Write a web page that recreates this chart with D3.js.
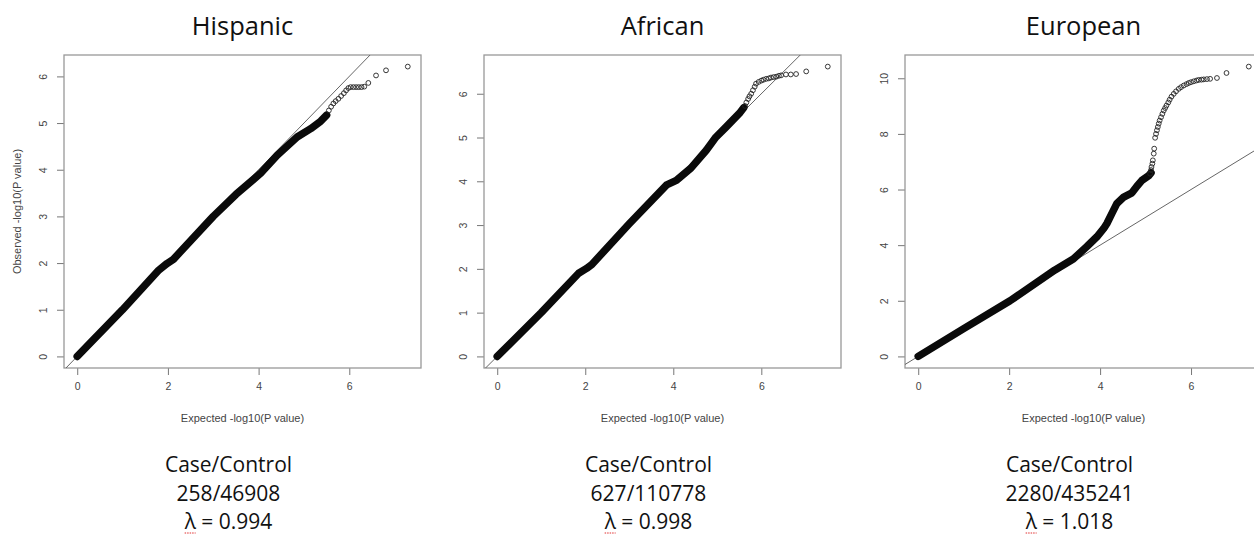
<!DOCTYPE html>
<html>
<head>
<meta charset="utf-8">
<script src="https://cdn.jsdelivr.net/npm/d3@7"></script>
<style>
  body { margin: 0; background: #fff; }
  .tick text { font-family: "Liberation Sans", Arial, sans-serif; }
</style>
</head>
<body>
<div id="chart"></div>
<script>
// titles and captions
var panelTitles = ["Hispanic", "African", "European"];
var caseControl = ["258/46908", "627/110778", "2280/435241"];
var lambdas = ["0.994", "0.998", "1.018"];

// tick labels
var xTicks = [0, 2, 4, 6];
var yTicksHispanic = [0, 1, 2, 3, 4, 5, 6];
var yTicksAfrican = [0, 1, 2, 3, 4, 5, 6];
var yTicksEuropean = [0, 2, 4, 6, 8, 10];

// dense part of each QQ cloud (expected, observed)
var hispanicBand = [[0, 0], [1.0, 1.0], [1.8, 1.85], [1.98, 1.99], [2.12, 2.08], [3.0, 3.0],
  [3.5, 3.47], [4.04, 3.92], [4.41, 4.31], [4.85, 4.7], [5.15, 4.88], [5.37, 5.04], [5.5, 5.17]];
var africanBand = [[0, 0], [1.0, 1.0], [1.85, 1.9], [2.03, 2.01], [2.15, 2.1], [3.0, 3.03],
  [3.85, 3.92], [4.07, 4.02], [4.4, 4.3], [4.75, 4.71], [4.97, 5.01], [5.2, 5.24], [5.5, 5.55], [5.6, 5.68]];
var europeanBand = [[0, 0], [1.0, 1.0], [2.02, 2.0], [3.0, 3.1], [3.41, 3.5], [3.71, 3.95],
  [3.93, 4.3], [4.08, 4.6], [4.15, 4.78], [4.26, 5.14], [4.37, 5.5], [4.52, 5.73], [4.7, 5.88],
  [4.81, 6.12], [4.92, 6.33], [5.07, 6.5], [5.12, 6.6]];

// sparse tail points drawn as open circles
var hispanicTail = [[5.55, 5.27], [5.6, 5.35], [5.65, 5.42], [5.7, 5.47], [5.76, 5.52], [5.82, 5.58],
  [5.88, 5.64], [5.93, 5.7], [5.98, 5.75], [6.03, 5.77], [6.09, 5.77], [6.15, 5.77], [6.21, 5.77],
  [6.27, 5.77], [6.33, 5.78], [6.42, 5.86], [6.59, 6.02], [6.81, 6.13], [7.29, 6.21]];
var africanTail = [[5.63, 5.72], [5.66, 5.8], [5.7, 5.88], [5.73, 5.94], [5.77, 6.0], [5.81, 6.08],
  [5.85, 6.16], [5.88, 6.23], [5.94, 6.27], [6.0, 6.3], [6.05, 6.32], [6.11, 6.34], [6.17, 6.35],
  [6.22, 6.37], [6.28, 6.38], [6.34, 6.39], [6.4, 6.41], [6.45, 6.42], [6.56, 6.44], [6.67, 6.44],
  [6.79, 6.45], [7.02, 6.51], [7.51, 6.62]];
var europeanTail = [[5.1, 6.57], [5.12, 6.7], [5.13, 6.81], [5.15, 6.93], [5.16, 7.05], [5.18, 7.29],
  [5.19, 7.47], [5.21, 7.86], [5.23, 8.0], [5.25, 8.13], [5.27, 8.25], [5.29, 8.37], [5.31, 8.48],
  [5.34, 8.6], [5.37, 8.72], [5.4, 8.84], [5.43, 8.93], [5.46, 9.02], [5.5, 9.13], [5.53, 9.23],
  [5.57, 9.34], [5.62, 9.44], [5.67, 9.53], [5.73, 9.62], [5.78, 9.68], [5.84, 9.74], [5.9, 9.79],
  [5.95, 9.83], [6.0, 9.86], [6.06, 9.89], [6.12, 9.92], [6.17, 9.94], [6.23, 9.95], [6.28, 9.96],
  [6.35, 9.97], [6.42, 9.98], [6.57, 10.01], [6.78, 10.19], [7.27, 10.42]];

var bands = [hispanicBand, africanBand, europeanBand];
var tails = [hispanicTail, africanTail, europeanTail];
var yTickSets = [yTicksHispanic, yTicksAfrican, yTicksEuropean];

var width = 1254, height = 537;
var boxLefts = [64, 484, 905], boxW = 357, boxTop = 55, boxBottom = 368;

var svg = d3.select("#chart").append("svg")
    .attr("width", width)
    .attr("height", height);

// R-style padded domain (4% each side)
function padded(lo, hi) {
  var r = hi - lo;
  return [lo - 0.04 * r, hi + 0.04 * r];
}

panelTitles.forEach(function(title, i) {
  var band = bands[i], tail = tails[i];
  var all = band.concat(tail);
  var left = boxLefts[i];

  var x = d3.scaleLinear()
      .domain(padded(0, d3.max(all, function(d){ return d[0]; })))
      .range([left, left + boxW]);
  var y = d3.scaleLinear()
      .domain(padded(0, d3.max(all, function(d){ return d[1]; })))
      .range([boxBottom, boxTop]);

  var g = svg.append("g").attr("class", "panel");

  g.append("clipPath").attr("id", "clip" + i)
    .append("rect")
      .attr("x", left).attr("y", boxTop)
      .attr("width", boxW).attr("height", boxBottom - boxTop);

  // title
  g.append("text")
      .attr("x", left + boxW / 2)
      .attr("y", 35)
      .attr("text-anchor", "middle")
      .style("font-family", "'Open Sans', sans-serif")
      .style("font-size", "25.5px")
      .style("fill", "#111")
      .text(title);

  // axes
  var xAxis = d3.axisBottom(x).tickValues(xTicks).tickFormat(d3.format("d"))
      .tickSize(7).tickPadding(8);
  var gx = g.append("g")
      .attr("transform", "translate(0," + boxBottom + ")")
      .call(xAxis);
  var yAxis = d3.axisLeft(y).tickValues(yTickSets[i]).tickFormat(d3.format("d"))
      .tickSize(7).tickPadding(9);
  var gy = g.append("g")
      .attr("transform", "translate(" + left + ",0)")
      .call(yAxis);

  [gx, gy].forEach(function(a) {
    a.select(".domain").remove();
    a.selectAll(".tick line").attr("stroke", "#777");
    a.selectAll(".tick text").style("font-size", "10.5px").attr("fill", "#444");
  });
  // y labels parallel to the axis, as in R
  gy.selectAll(".tick text")
      .attr("x", null).attr("dy", null)
      .attr("text-anchor", "middle")
      .attr("transform", "translate(-17,0) rotate(-90)");

  // box
  g.append("rect")
      .attr("x", left).attr("y", boxTop)
      .attr("width", boxW).attr("height", boxBottom - boxTop)
      .attr("fill", "none")
      .attr("stroke", "#999")
      .attr("stroke-width", 1.3);

  // axis labels
  g.append("text")
      .attr("x", left + boxW / 2)
      .attr("y", 422)
      .attr("text-anchor", "middle")
      .style("font-family", "'Liberation Sans', Arial, sans-serif")
      .style("font-size", "11px")
      .style("fill", "#444")
      .text("Expected -log10(P value)");
  if (i === 0) {
    g.append("text")
        .attr("transform", "translate(21," + ((boxTop + boxBottom) / 2) + ") rotate(-90)")
        .attr("text-anchor", "middle")
        .style("font-family", "'Liberation Sans', Arial, sans-serif")
        .style("font-size", "11px")
        .style("fill", "#444")
        .text("Observed -log10(P value)");
  }

  var plot = g.append("g").attr("clip-path", "url(#clip" + i + ")");

  // expected line y = x
  var lim = d3.extent(x.domain().concat(y.domain()));
  plot.append("line")
      .attr("x1", x(lim[0])).attr("y1", y(lim[0]))
      .attr("x2", x(lim[1])).attr("y2", y(lim[1]))
      .attr("stroke", "#666")
      .attr("stroke-width", 1);

  // dense band
  plot.append("path")
      .datum(band)
      .attr("d", d3.line().x(function(d){ return x(d[0]); }).y(function(d){ return y(d[1]); }))
      .attr("fill", "none")
      .attr("stroke", "#0a0a0a")
      .attr("stroke-width", 7.5)
      .attr("stroke-linecap", "round")
      .attr("stroke-linejoin", "round");

  // tail circles
  plot.selectAll("circle.pt")
      .data(tail)
    .enter().append("circle")
      .attr("class", "pt")
      .attr("cx", function(d){ return x(d[0]); })
      .attr("cy", function(d){ return y(d[1]); })
      .attr("r", 2.4)
      .attr("fill", "none")
      .attr("stroke", "#222")
      .attr("stroke-width", 0.9);

  // caption below
  var cx = left + boxW / 2 - 14;
  var capFont = "'Open Sans', sans-serif";
  [["Case/Control", 472], [caseControl[i], 501]].forEach(function(t) {
    g.append("text")
        .attr("x", cx).attr("y", t[1])
        .attr("text-anchor", "middle")
        .style("font-family", capFont)
        .style("font-size", "21px")
        .style("fill", "#111")
        .text(t[0]);
  });
  var lam = g.append("text")
      .attr("x", cx).attr("y", 529)
      .attr("text-anchor", "middle")
      .style("font-family", capFont)
      .style("font-size", "21px")
      .style("fill", "#111")
      .text("\u03BB = " + lambdas[i]);
  // spell-check squiggle under lambda
  var bb = lam.node().getBBox();
  g.append("path")
      .attr("d", "M" + (bb.x + 1) + "," + (bb.y + bb.height - 2) + " h11")
      .attr("stroke", "#e03030")
      .attr("stroke-width", 1)
      .attr("stroke-dasharray", "1.5,1");
});
</script>
</body>
</html>
